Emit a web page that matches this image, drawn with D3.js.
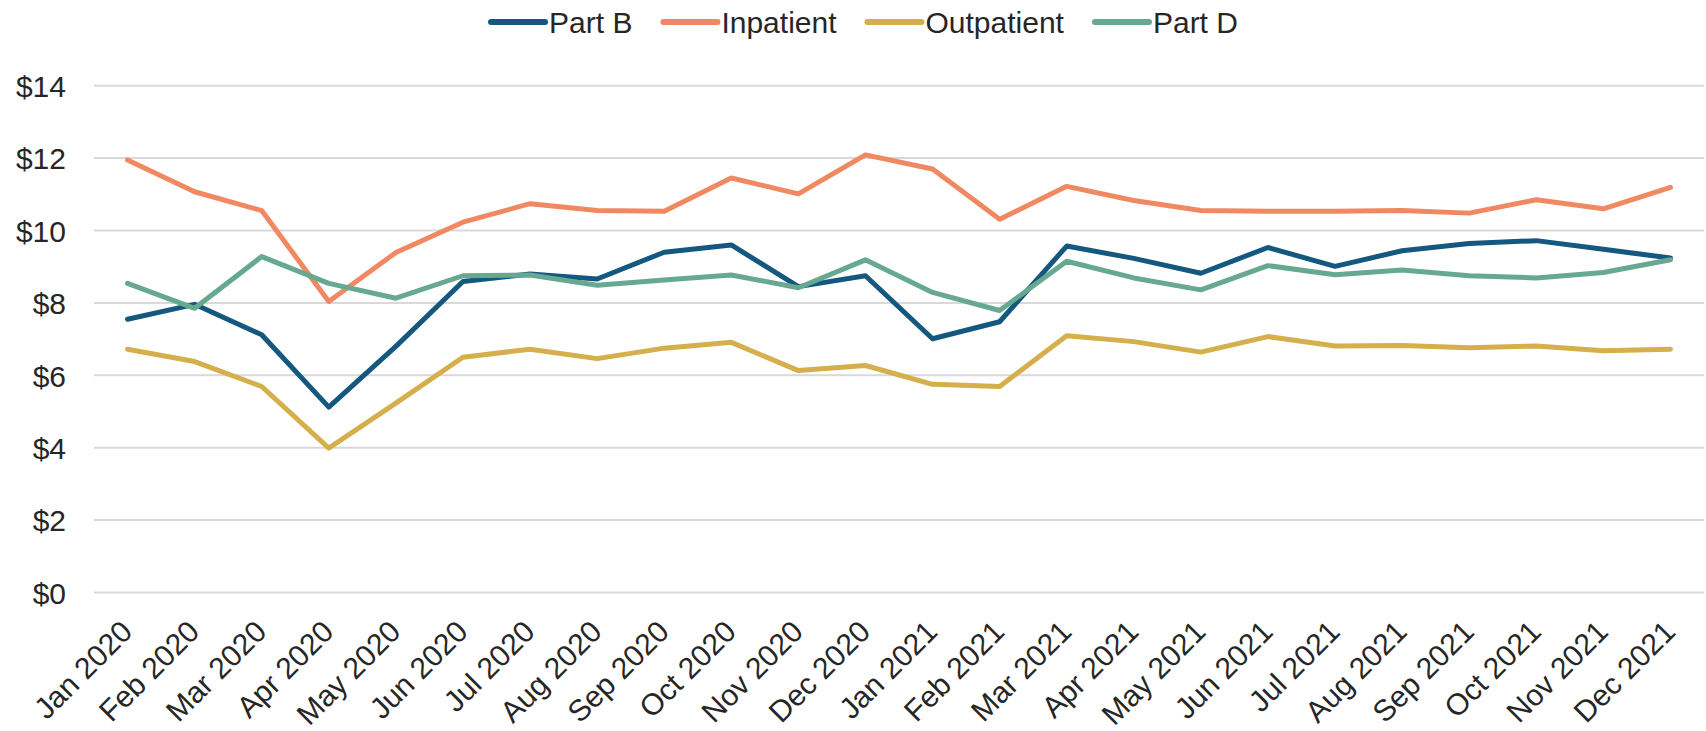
<!DOCTYPE html>
<html>
<head>
<meta charset="utf-8">
<script src="https://cdn.jsdelivr.net/npm/d3@7"></script>
<style>
  body { margin: 0; background: #fff; }
  text { font-family: "Liberation Sans", Arial, sans-serif; fill: #262626; }
</style>
</head>
<body>
<script>
// maanden op de x-as
var maanden = ["Jan 2020", "Feb 2020", "Mar 2020", "Apr 2020", "May 2020", "Jun 2020",
  "Jul 2020", "Aug 2020", "Sep 2020", "Oct 2020", "Nov 2020", "Dec 2020",
  "Jan 2021", "Feb 2021", "Mar 2021", "Apr 2021", "May 2021", "Jun 2021",
  "Jul 2021", "Aug 2021", "Sep 2021", "Oct 2021", "Nov 2021", "Dec 2021"];

var partB = [7.55, 7.96, 7.12, 5.12, 6.80, 8.59, 8.80, 8.66, 9.40, 9.60, 8.45, 8.75,
  7.01, 7.48, 9.57, 9.23, 8.82, 9.53, 9.01, 9.44, 9.64, 9.72, 9.48, 9.24];
var inpatient = [11.95, 11.07, 10.55, 8.04, 9.39, 10.23, 10.74, 10.55, 10.53, 11.45, 11.01, 12.09,
  11.70, 10.31, 11.22, 10.83, 10.55, 10.53, 10.53, 10.55, 10.48, 10.85, 10.60, 11.19];
var outpatient = [6.72, 6.38, 5.69, 3.99, 5.23, 6.50, 6.72, 6.46, 6.75, 6.91, 6.13, 6.27,
  5.75, 5.69, 7.09, 6.93, 6.64, 7.07, 6.81, 6.82, 6.76, 6.81, 6.68, 6.72];
var partD = [8.54, 7.85, 9.28, 8.54, 8.13, 8.75, 8.77, 8.49, 8.63, 8.77, 8.42, 9.19,
  8.29, 7.79, 9.15, 8.69, 8.36, 9.03, 8.78, 8.91, 8.75, 8.69, 8.84, 9.19];

var reeksNamen = ["Part B", "Inpatient", "Outpatient", "Part D"];
var reeksKleuren = ["#14577f", "#f08962", "#d5af4b", "#67a891"];
var yTicks = [0, 2, 4, 6, 8, 10, 12, 14];

var reeksen = [partB, inpatient, outpatient, partD];

// afmetingen
var breedte = 1706, hoogte = 731;
var links = 94, rechts = 1704, boven = 85.7, beneden = 592.5;
var letter = "30px";

var svg = d3.select("body").append("svg")
    .attr("width", breedte)
    .attr("height", hoogte);

var x = d3.scalePoint()
    .domain(maanden)
    .range([links, rechts])
    .padding(0.5);

var y = d3.scaleLinear()
    .domain([0, 14])
    .range([beneden, boven]);

// rasterlijnen
svg.append("g")
  .selectAll("line")
  .data(yTicks)
  .enter().append("line")
    .attr("x1", links)
    .attr("x2", rechts)
    .attr("y1", function(d) { return y(d); })
    .attr("y2", function(d) { return y(d); })
    .attr("stroke", "#d9d9d9")
    .attr("stroke-width", 2);

// y-as labels
var asY = d3.axisLeft(y).tickValues(yTicks).tickSize(0).tickPadding(0)
    .tickFormat(function(d) { return "$" + d; });
var gY = svg.append("g")
    .attr("transform", "translate(66,0)")
    .call(asY);
gY.select(".domain").remove();
gY.selectAll("text")
    .attr("font-size", letter)
    .attr("font-family", "Liberation Sans, Arial, sans-serif")
    .attr("fill", "#262626")
    .attr("dy", "0.36em");

// x-as labels
var asX = d3.axisBottom(x).tickSize(0).tickPadding(0);
var gX = svg.append("g")
    .attr("transform", "translate(0," + beneden + ")")
    .call(asX);
gX.select(".domain").remove();
gX.selectAll("text")
    .attr("font-size", letter)
    .attr("font-family", "Liberation Sans, Arial, sans-serif")
    .attr("fill", "#262626")
    .attr("dy", null)
    .attr("y", null)
    .attr("text-anchor", "end")
    .attr("transform", "translate(6,41) rotate(-45)");

// lijnen
var lijn = d3.line()
    .x(function(d, i) { return x(maanden[i]); })
    .y(function(d) { return y(d); });

svg.append("g")
  .selectAll("path")
  .data(reeksen)
  .enter().append("path")
    .attr("d", lijn)
    .attr("fill", "none")
    .attr("stroke", function(d, i) { return reeksKleuren[i]; })
    .attr("stroke-width", 5)
    .attr("stroke-linejoin", "round")
    .attr("stroke-linecap", "round");

// legenda
var legenda = svg.append("g");
var pos = 0;
reeksNamen.forEach(function(naam, i) {
  var item = legenda.append("g").attr("transform", "translate(" + pos + ",0)");
  item.append("line")
      .attr("x1", 3).attr("x2", 57)
      .attr("y1", 0).attr("y2", 0)
      .attr("stroke", reeksKleuren[i])
      .attr("stroke-width", 6)
      .attr("stroke-linecap", "round");
  var t = item.append("text")
      .attr("x", 61)
      .attr("dy", "0.35em")
      .attr("font-size", letter)
      .text(naam);
  pos += 61 + t.node().getComputedTextLength() + 28;
});
pos -= 28;
legenda.attr("transform", "translate(" + (863 - pos / 2) + ",22)");
</script>
</body>
</html>
